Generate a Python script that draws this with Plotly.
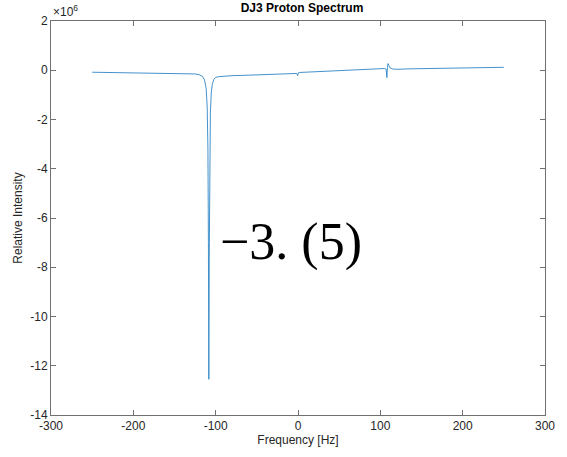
import plotly.graph_objects as go

# Frequency (Hz) and relative intensity (units of 1e6)
freq = [-250, -220, -190, -160, -135, -125, -120, -116, -113.5, -111.5, -110.3, -109.4, -108.8,
        -108.3, -107.8, -107.2, -106.4, -105.3, -104, -102, -100, -96, -90, -80, -60, -40, -20,
        -5, -1.5, -0.5, 0, 0.6, 2, 20, 40, 60, 80, 100, 105, 107, 108, 108.6, 109.3, 110.5,
        112, 115, 120, 140, 170, 200, 230, 250]
intensity = [-0.08, -0.09, -0.10, -0.11, -0.13, -0.15, -0.18, -0.25, -0.40, -0.75, -1.5, -3.2, -7.0,
             -12.55, -7.5, -3.5, -1.7, -0.9, -0.55, -0.36, -0.29, -0.26, -0.24, -0.22, -0.20, -0.17, -0.14,
             -0.11, -0.13, -0.22, -0.12, -0.10, -0.09, -0.06, -0.03, 0.0, 0.03, 0.06, 0.07, 0.05, -0.30,
             0.10, 0.27, 0.18, 0.09, 0.05, 0.04, 0.06, 0.08, 0.09, 0.11, 0.12]

x_ticks = [-300, -200, -100, 0, 100, 200, 300]
y_ticks = [2, 0, -2, -4, -6, -8, -10, -12, -14]

title_text = "DJ3 Proton Spectrum"
x_label = "Frequency [Hz]"
y_label = "Relative Intensity"
overlay_text = "\u22123. (5)"

axis_color = "#707070"
text_color = "#262626"
font_sans = "Liberation Sans, Arial, sans-serif"

fig = go.Figure()
fig.add_trace(go.Scatter(x=freq, y=intensity, mode="lines",
                         line=dict(color="#2f86c6", width=0.9), showlegend=False))

fig.update_layout(
    width=567, height=457,
    margin=dict(l=51, r=14, t=21, b=39),
    plot_bgcolor="white", paper_bgcolor="white",
    font=dict(family=font_sans, size=12, color=text_color),
    title=dict(text="<b>" + title_text + "</b>", x=(51 + 553) / 2 / 567, xanchor="center",
               y=1 - 8 / 457, yanchor="middle", font=dict(size=12, color="black")),
)
fig.update_xaxes(range=[-300, 300], tickvals=x_ticks, ticktext=[str(v) for v in x_ticks],
                 ticks="inside", ticklen=5, tickcolor=axis_color, showline=True, linecolor=axis_color,
                 linewidth=1, mirror="ticks", showgrid=False, zeroline=False,
                 tickfont=dict(size=12),
                 title=dict(text=x_label, standoff=3, font=dict(size=12)))
fig.update_yaxes(range=[-14, 2], tickvals=y_ticks, ticktext=[str(v) for v in y_ticks],
                 ticks="inside", ticklen=5, tickcolor=axis_color, showline=True, linecolor=axis_color,
                 linewidth=1, mirror="ticks", showgrid=False, zeroline=False,
                 tickfont=dict(size=12),
                 title=dict(text=y_label, standoff=5, font=dict(size=12)))

fig.add_annotation(text="\u00d710<sup>6</sup>", xref="paper", yref="paper", x=0.0, y=1.0,
                   xanchor="left", yanchor="bottom", showarrow=False,
                   font=dict(size=12, color=text_color, family=font_sans))
fig.add_annotation(text=overlay_text, xref="paper", yref="paper",
                   x=(221 - 51) / 502, y=(418 - 244) / 397, xanchor="left", yanchor="middle",
                   showarrow=False, font=dict(size=52, color="black",
                                              family="Liberation Serif, Times New Roman, serif"))

fig.write_html("out.html")
